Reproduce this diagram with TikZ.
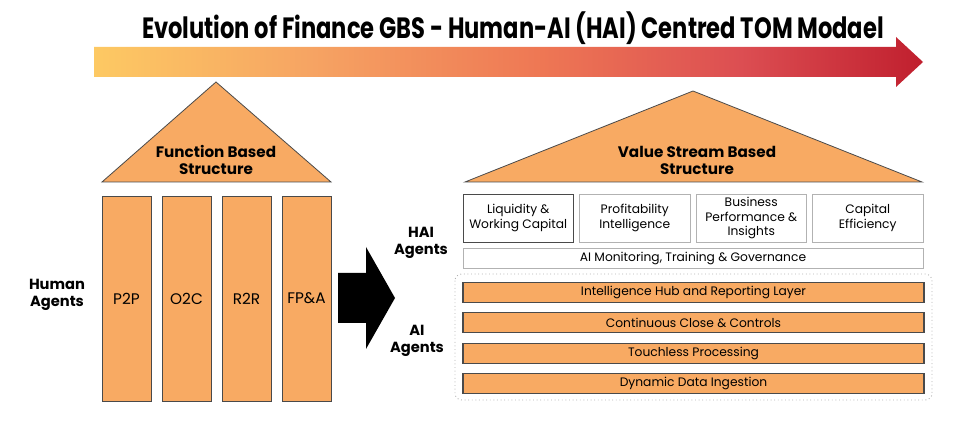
\documentclass[tikz,border=0pt]{standalone}
\usepackage{fontspec}
\setmainfont{Poppins}
\usepackage{xcolor}
\usetikzlibrary{positioning}

\definecolor{gradA}{HTML}{FDC963}
\definecolor{gradB}{HTML}{F6A463}
\definecolor{gradC}{HTML}{EE7754}
\definecolor{gradD}{HTML}{DC4E52}
\definecolor{gradE}{HTML}{C01F2E}
\definecolor{peach}{HTML}{F8AA63}
\definecolor{edge}{HTML}{4A4A4A}
\pgfdeclarehorizontalshading{evolgrad}{100bp}{color(0bp)=(gradA); color(25bp)=(gradA); color(38bp)=(gradB); color(52bp)=(gradC); color(64bp)=(gradD); color(75bp)=(gradE); color(100bp)=(gradE)}

\begin{document}
\begin{tikzpicture}[x=0.75pt, y=-0.75pt,
    roof/.style={fill=peach, draw=edge, line width=0.6pt},
    pillar/.style={fill=peach, draw=edge, line width=0.6pt, minimum width=36.75pt, minimum height=153.75pt, inner sep=0pt, font=\fontsize{11.5}{13}\selectfont},
    roofText/.style={align=center, font=\fontsize{11.4}{12.8}\selectfont\bfseries},
    agent/.style={align=center, font=\fontsize{11}{12.8}\selectfont\bfseries},
    valueBox/.style={fill=white, draw=gray!60, line width=0.6pt, minimum width=82.9pt, minimum height=36pt, inner sep=0pt, align=center, font=\fontsize{9.2}{11.2}\selectfont},
    layer/.style={fill=peach, draw=edge, line width=0.8pt, minimum width=345.75pt, minimum height=15pt, inner sep=0pt, font=\fontsize{9.2}{11}\selectfont}]
    % 1. Khung và mũi tên tiến hoá
    \useasboundingbox (0,0) rectangle (960,434);
    \node[font=\fontsize{22}{24}\selectfont\bfseries] (title) at (513,28)
        {\scalebox{0.77}[1]{Evolution of Finance GBS - Human-AI (HAI) Centred TOM Modael}};
    \shade[shading=evolgrad] (94,47) -- (896,47) -- (896,37) -- (923,62) -- (896,87) -- (896,77) -- (94,77) -- cycle;

    % 2. Cấu trúc theo chức năng
    \draw[roof] (102,182) -- (216,82) -- (331,182) -- cycle;
    \node[roofText] (funcRoof) at (216,160) {Function Based\\Structure};
    \foreach \lbl [count=\i] in {P2P,O2C,R2R,FP\&A} {
        \node[pillar] (pillar\i) at ({126.5+60*(\i-1)},298.5) {\lbl};
    }
    \node[agent] (human) at (57,295) {Human\\Agents};

    % 3. Mũi tên chuyển đổi
    \fill[black] (338,273) -- (366,273) -- (366,247) -- (395,298) -- (366,349) -- (366,323) -- (338,323) -- cycle;

    % 4. Cấu trúc theo chuỗi giá trị
    \draw[roof] (465,182) -- (693,91) -- (922,182) -- cycle;
    \node[roofText] (valueRoof) at (697,160) {Value Stream Based\\Structure};
    \node[valueBox, draw=edge] (val1) at (518.25,218) {Liquidity \&\\Working Capital};
    \node[valueBox] (val2) at (634.75,218) {Profitability\\Intelligence};
    \node[valueBox] (val3) at (751.25,218) {Business\\Performance \&\\Insights};
    \node[valueBox] (val4) at (867.75,218) {Capital\\Efficiency};
    \node[valueBox, minimum width=345pt, minimum height=15pt] (monitor) at (693,258)
        {AI Monitoring, Training \& Governance};
    \node[agent] (hai) at (421,243) {HAI\\Agents};

    % 5. Các lớp tác tử AI
    \draw[gray!60, dotted, line width=0.7pt, rounded corners=5pt] (455,274) rectangle (932,400);
    \node[layer] (hub) at (693.5,292.5) {Intelligence Hub and Reporting Layer};
    \node[layer] (close) at (693.5,322.5) {Continuous Close \& Controls};
    \node[layer] (touch) at (693.5,353.5) {Touchless Processing};
    \node[layer] (ingest) at (693.5,383.5) {Dynamic Data Ingestion};
    \node[agent] (ai) at (417,341) {AI\\Agents};
\end{tikzpicture}
\end{document}
